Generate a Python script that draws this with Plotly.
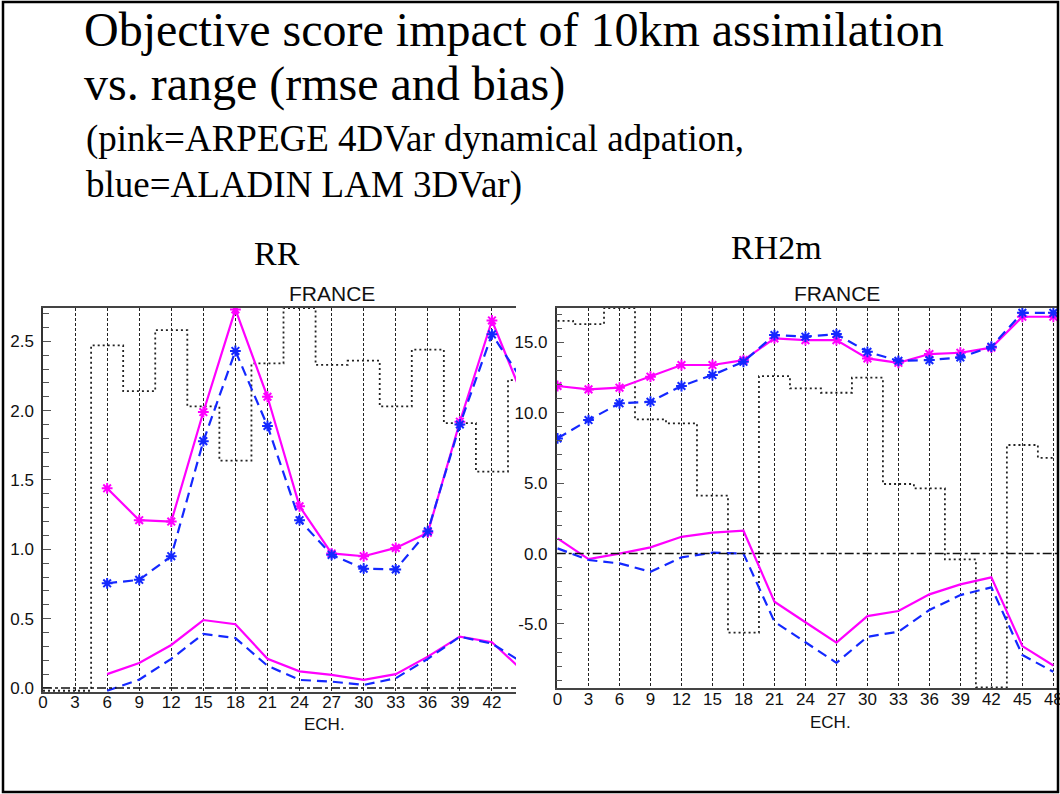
import plotly.graph_objects as go

W, H = 1060, 794

# ---------------- data ----------------
rr_ranges = [0, 3, 6, 9, 12, 15, 18, 21, 24, 27, 30, 33, 36, 39, 42, 45]
rr_rmse_arpege = [None, None, 1.44, 1.21, 1.20, 1.99, 2.73, 2.10, 1.31, 0.97, 0.95, 1.01, 1.12, 1.92, 2.65, 2.08]
rr_rmse_aladin = [None, None, 0.755, 0.78, 0.95, 1.78, 2.43, 1.89, 1.21, 0.96, 0.86, 0.855, 1.13, 1.90, 2.55, 2.20]
rr_bias_arpege = [None, None, 0.10, 0.18, 0.31, 0.49, 0.46, 0.21, 0.12, 0.094, 0.058, 0.10, 0.226, 0.37, 0.33, 0.116]
rr_bias_aladin = [None, None, -0.02, 0.06, 0.21, 0.39, 0.36, 0.16, 0.058, 0.046, 0.022, 0.07, 0.21, 0.37, 0.32, 0.177]
rr_obs = [-0.02, -0.02, 2.47, 2.14, 2.58, 2.03, 1.64, 2.34, 2.74, 2.33, 2.36, 2.03, 2.44, 1.91, 1.56, 2.22]

rh_ranges = [0, 3, 6, 9, 12, 15, 18, 21, 24, 27, 30, 33, 36, 39, 42, 45, 48]
rh_rmse_arpege = [11.9, 11.66, 11.78, 12.56, 13.39, 13.39, 13.74, 15.28, 15.16, 15.16, 13.86, 13.55, 14.17, 14.26, 14.62, 16.82, 16.82]
rh_rmse_aladin = [8.18, 9.48, 10.67, 10.78, 11.9, 12.68, 13.62, 15.52, 15.4, 15.59, 14.33, 13.69, 13.74, 13.93, 14.69, 17.1, 17.1]
rh_bias_arpege = [1.08, -0.39, 0.0, 0.44, 1.19, 1.48, 1.62, -3.42, -4.88, -6.33, -4.44, -4.08, -2.90, -2.19, -1.69, -6.57, -7.95]
rh_bias_aladin = [0.37, -0.46, -0.70, -1.29, -0.27, 0.06, 0.0, -4.84, -6.3, -7.76, -5.91, -5.55, -4.01, -2.95, -2.40, -7.21, -8.4]
rh_obs = [16.53, 16.3, 17.44, 9.53, 9.25, 4.12, -5.62, 12.6, 11.73, 11.42, 12.49, 4.94, 4.63, -0.41, -9.5, 7.71, 6.8]

rr_xticks = [0, 3, 6, 9, 12, 15, 18, 21, 24, 27, 30, 33, 36, 39, 42]
rr_yticks = [0.0, 0.5, 1.0, 1.5, 2.0, 2.5]
rr_yticklabels = ["0.0", "0.5", "1.0", "1.5", "2.0", "2.5"]
rh_xticks = [0, 3, 6, 9, 12, 15, 18, 21, 24, 27, 30, 33, 36, 39, 42, 45, 48]
rh_yticks = [-5.0, 0.0, 5.0, 10.0, 15.0]
rh_yticklabels = ["-5.0", "0.0", "5.0", "10.0", "15.0"]

title_lines = ["Objective score impact of 10km assimilation", "vs. range (rmse and bias)"]
subtitle_lines = ["(pink=ARPEGE 4DVar dynamical adpation,", "blue=ALADIN LAM 3DVar)"]

PINK = "#ff00ff"
BLUE = "#1428ff"
SANS = "Liberation Sans, Arial"
SERIF = "Liberation Serif, Times New Roman, serif"


def px(x):
    return x / W


def py(y):
    return 1 - y / H


fig = go.Figure()

def add_panel(xs, rp, ra, bp, ba, obs, xa, ya):
    fig.add_trace(go.Scatter(x=xs, y=obs, mode="lines", line=dict(color="#222", width=1.8, dash="2px,3px", shape="hvh"),
                             xaxis=xa, yaxis=ya, showlegend=False, hoverinfo="skip"))
    fig.add_trace(go.Scatter(x=xs, y=bp, mode="lines", line=dict(color=PINK, width=2.2),
                             xaxis=xa, yaxis=ya, showlegend=False))
    fig.add_trace(go.Scatter(x=xs, y=ba, mode="lines", line=dict(color=BLUE, width=2.2, dash="10px,6px"),
                             xaxis=xa, yaxis=ya, showlegend=False))
    fig.add_trace(go.Scatter(x=xs, y=rp, mode="lines+markers", line=dict(color=PINK, width=2.2),
                             marker=dict(symbol="asterisk-open", size=9, line=dict(color=PINK, width=2)),
                             xaxis=xa, yaxis=ya, showlegend=False))
    fig.add_trace(go.Scatter(x=xs, y=ra, mode="lines+markers", line=dict(color=BLUE, width=2.2, dash="10px,6px"),
                             marker=dict(symbol="asterisk-open", size=9, line=dict(color=BLUE, width=2)),
                             xaxis=xa, yaxis=ya, showlegend=False))

add_panel(rr_ranges, rr_rmse_arpege, rr_rmse_aladin, rr_bias_arpege, rr_bias_aladin, rr_obs, "x", "y")
add_panel(rh_ranges, rh_rmse_arpege, rh_rmse_aladin, rh_bias_arpege, rh_bias_aladin, rh_obs, "x2", "y2")

tickfont = dict(family=SANS, size=17, color="#111")
common_x = dict(showgrid=True, gridcolor="#222", gridwidth=1, griddash="3px,2px", ticks="",
                showline=True, linecolor="#444", linewidth=2, mirror=True, zeroline=False,
                tickfont=tickfont, tickmode="array", ticklabelstandoff=-6, automargin=False,
                ticklabeloverflow="allow")
common_y = dict(showgrid=False, zeroline=False, showline=True, linecolor="#333", linewidth=1.5,
                ticks="inside", ticklen=8, tickcolor="#555", tickwidth=1, tickfont=tickfont,
                tickmode="array", ticklabelstandoff=4, automargin=False)

fig.update_layout(
    width=W, height=H, autosize=False,
    margin=dict(l=0, r=0, t=0, b=0, autoexpand=False),
    paper_bgcolor="white", plot_bgcolor="white",
    xaxis=dict(domain=[px(43), px(516)], range=[0, 44.25], tickvals=rr_xticks, anchor="y", **common_x),
    yaxis=dict(domain=[py(692), py(308)], range=[-0.029, 2.74], tickvals=rr_yticks, ticktext=rr_yticklabels,
               anchor="x", minor=dict(dtick=0.1, ticks="inside", ticklen=6, tickcolor="#555"), **common_y),
    xaxis2=dict(domain=[px(556.7), px(1058)], range=[-0.08, 48.45], tickvals=rh_xticks, anchor="y2", **common_x),
    yaxis2=dict(domain=[py(688.3), py(308)], range=[-9.57, 17.44], tickvals=rh_yticks, ticktext=rh_yticklabels,
                anchor="x2", minor=dict(dtick=1, ticks="inside", ticklen=6, tickcolor="#555"), **common_y),
)

shapes = [
    dict(type="line", xref="x domain", yref="y", x0=0, x1=1, y0=0, y1=0,
         line=dict(color="#111", width=1.6, dash="dashdot")),
    dict(type="line", xref="x2 domain", yref="y2", x0=0, x1=1, y0=0, y1=0,
         line=dict(color="#111", width=1.6, dash="dashdot")),
    dict(type="rect", xref="paper", yref="paper", x0=px(3), x1=px(1058), y0=py(792), y1=py(2),
         line=dict(color="black", width=2.5), fillcolor="rgba(0,0,0,0)"),
]
fig.update_layout(shapes=shapes)

ann = []
ann.append(dict(text=title_lines[0], x=px(82), y=py(29), xref="paper", yref="paper", xanchor="left", yanchor="middle",
                showarrow=False, font=dict(family=SERIF, size=48, color="black")))
ann.append(dict(text=title_lines[1], x=px(82), y=py(84), xref="paper", yref="paper", xanchor="left", yanchor="middle",
                showarrow=False, font=dict(family=SERIF, size=48, color="black")))
ann.append(dict(text=subtitle_lines[0], x=px(84), y=py(139), xref="paper", yref="paper", xanchor="left", yanchor="middle",
                showarrow=False, font=dict(family=SERIF, size=37, color="black")))
ann.append(dict(text=subtitle_lines[1], x=px(84), y=py(185), xref="paper", yref="paper", xanchor="left", yanchor="middle",
                showarrow=False, font=dict(family=SERIF, size=37, color="black")))
ann.append(dict(text="RR", x=px(277), y=py(253), xref="paper", yref="paper", xanchor="center", yanchor="middle",
                showarrow=False, font=dict(family=SERIF, size=34, color="black")))
ann.append(dict(text="RH2m", x=px(776), y=py(247), xref="paper", yref="paper", xanchor="center", yanchor="middle",
                showarrow=False, font=dict(family=SERIF, size=34, color="black")))
for cx in (331.7, 836.7):
    ann.append(dict(text="FRANCE", x=px(cx), y=py(293), xref="paper", yref="paper", xanchor="center", yanchor="middle",
                    showarrow=False, font=dict(family=SANS, size=21, color="#111")))
ann.append(dict(text="ECH.", x=px(324), y=py(724), xref="paper", yref="paper", xanchor="center", yanchor="middle",
                showarrow=False, font=dict(family=SANS, size=17, color="#111")))
ann.append(dict(text="ECH.", x=px(830), y=py(722), xref="paper", yref="paper", xanchor="center", yanchor="middle",
                showarrow=False, font=dict(family=SANS, size=17, color="#111")))
fig.update_layout(annotations=ann)

fig.write_html("out.html")
